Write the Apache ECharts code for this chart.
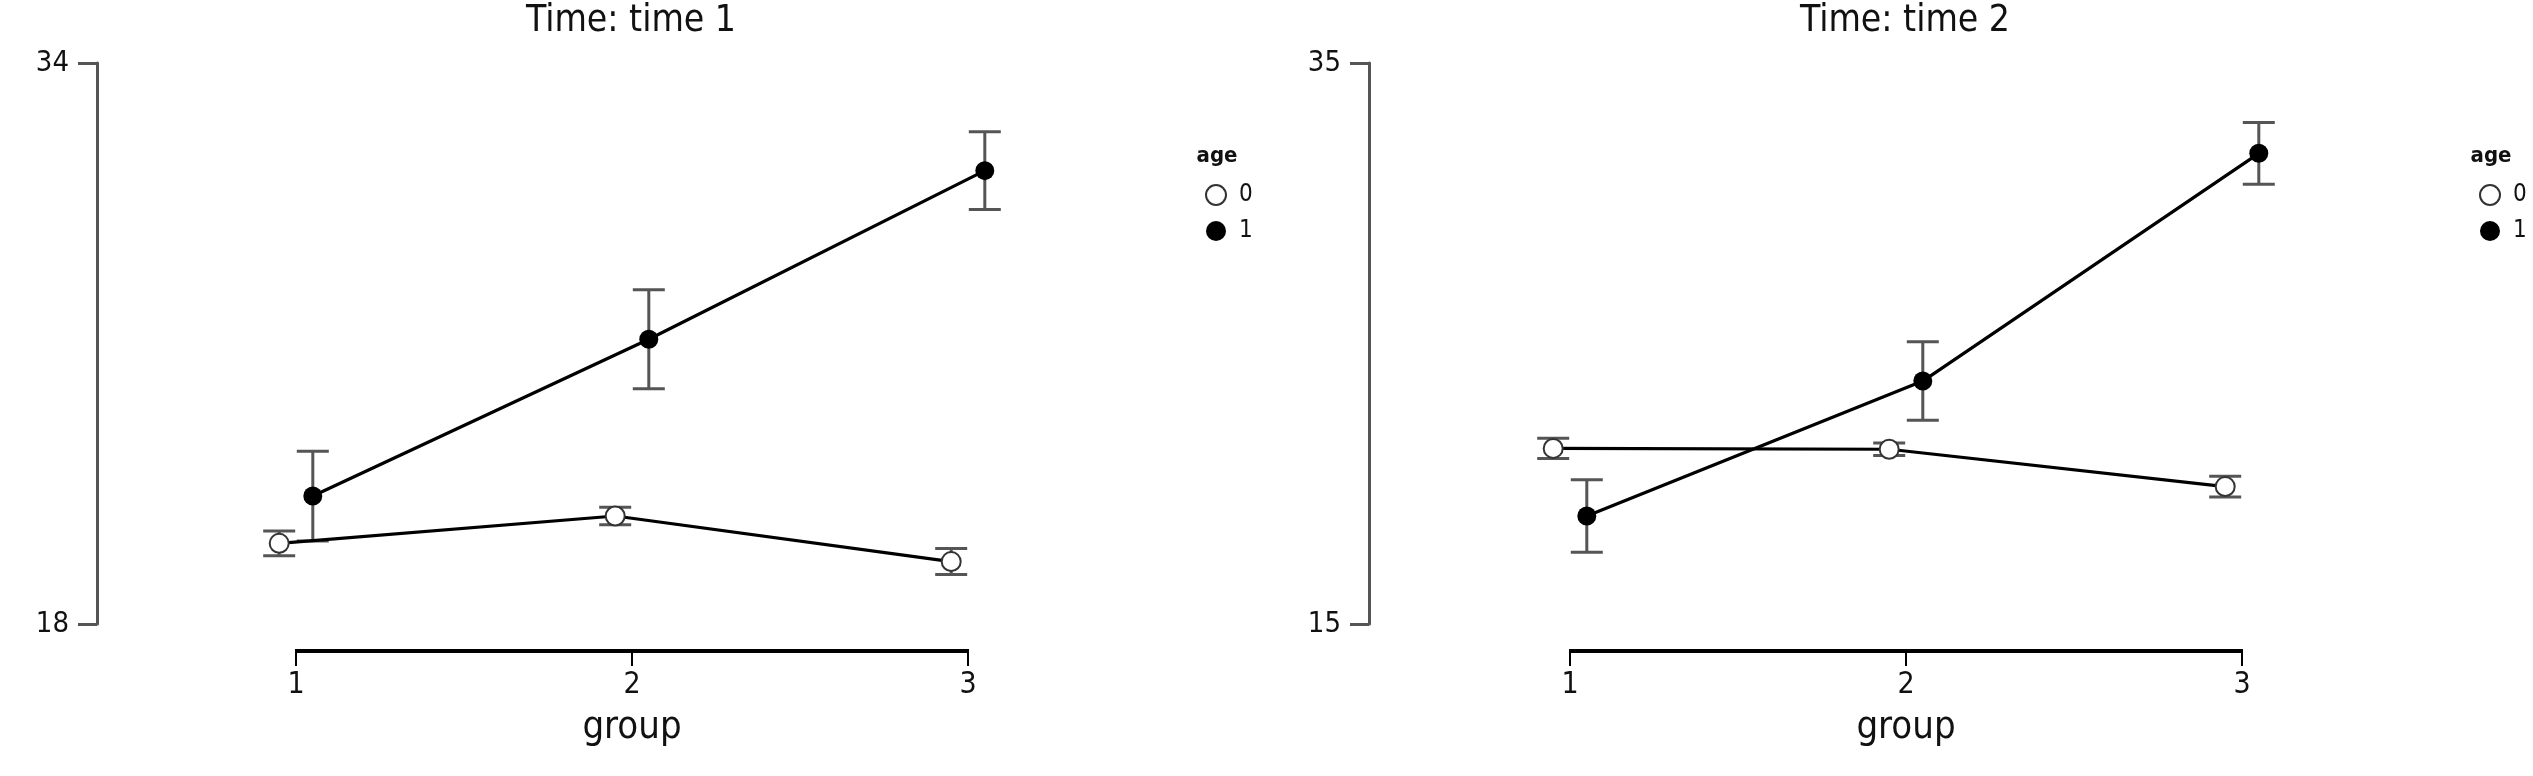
<!DOCTYPE html>
<html>
<head>
<meta charset="utf-8">
<script src="https://cdn.jsdelivr.net/npm/echarts@6/dist/echarts.min.js"></script>
<style>
html,body{margin:0;padding:0;background:#fff;}
#chart{width:2533px;height:776px;}
</style>
</head>
<body>
<div id="chart"></div>
<script>
// ---- data ----
const groups = [1, 2, 3];
const panelTitles = ['Time: time 1', 'Time: time 2'];
const yTicks1 = [18, 34];
const yTicks2 = [15, 35];
const ageLevels = ['0', '1'];

const t1Age0 = [20.30, 21.08, 19.78];
const t1Age0Err = [0.35, 0.25, 0.37];
const t1Age1 = [21.65, 26.12, 30.93];
const t1Age1Err = [1.28, 1.41, 1.11];

const t2Age0 = [21.26, 21.23, 19.90];
const t2Age0Err = [0.36, 0.22, 0.37];
const t2Age1 = [18.85, 23.66, 31.78];
const t2Age1Err = [1.29, 1.40, 1.10];

// ---- layout / style ----
const DODGE = 0.05;
const XPAD = 0.1;
const FONT = '"DejaVu Sans Condensed", "Liberation Sans Narrow", "Arial Narrow", sans-serif';
const UNIT = 336;
const grids = [
  { left: 296 - XPAD * UNIT, top: 63, width: (2 + 2 * XPAD) * UNIT, height: 561, outerBoundsMode: 'none', containLabel: false },
  { left: 1570 - XPAD * UNIT, top: 63, width: (2 + 2 * XPAD) * UNIT, height: 561, outerBoundsMode: 'none', containLabel: false }
];
const yAxisX = [97, 1369];
const X_OFFSET = 27;

function pts(vals, dx) { return groups.map((g, i) => [g + dx, vals[i]]); }
function errs(vals, e, dx) { return groups.map((g, i) => [g + dx, vals[i] - e[i], vals[i] + e[i]]); }

function errSeries(idx, vals, e, dx) {
  return {
    type: 'custom', xAxisIndex: idx, yAxisIndex: idx, z: 1, silent: true,
    data: errs(vals, e, dx),
    encode: { x: 0, y: [1, 2] },
    renderItem: function (params, api) {
      const x = api.value(0);
      const lo = api.coord([x, api.value(1)]);
      const hi = api.coord([x, api.value(2)]);
      const hw = 16;
      const st = { stroke: '#555', lineWidth: 3 };
      return {
        type: 'group', children: [
          { type: 'line', shape: { x1: lo[0], y1: lo[1], x2: hi[0], y2: hi[1] }, style: st },
          { type: 'line', shape: { x1: lo[0] - hw, y1: lo[1], x2: lo[0] + hw, y2: lo[1] }, style: st },
          { type: 'line', shape: { x1: hi[0] - hw, y1: hi[1], x2: hi[0] + hw, y2: hi[1] }, style: st }
        ]
      };
    }
  };
}

// x axis baseline spanning only first..last group (like the reference)
function axisLineSeries(idx, yMin) {
  return {
    type: 'custom', xAxisIndex: idx, yAxisIndex: idx, z: 2, silent: true,
    data: [[groups[0], groups[groups.length - 1], yMin]],
    encode: { x: [0, 1], y: 2 },
    renderItem: function (params, api) {
      const a = api.coord([api.value(0), api.value(2)]);
      const b = api.coord([api.value(1), api.value(2)]);
      return {
        type: 'line',
        shape: { x1: a[0] - 1, y1: a[1] + X_OFFSET, x2: b[0] + 1, y2: b[1] + X_OFFSET },
        style: { stroke: '#000', lineWidth: 4 }
      };
    }
  };
}

function lineSeries(idx, name, vals, dx, filled) {
  return {
    type: 'line', name: name, xAxisIndex: idx, yAxisIndex: idx, z: 3,
    clip: false, data: pts(vals, dx),
    symbol: 'circle', symbolSize: 19,
    itemStyle: { color: filled ? '#000' : '#fff', borderColor: filled ? '#000' : '#333', borderWidth: filled ? 0 : 2 },
    lineStyle: { color: '#000', width: 3.2 },
    emphasis: { disabled: true },
    animation: false
  };
}

function xAxis(idx) {
  return {
    type: 'value', gridIndex: idx, min: groups[0] - XPAD, max: groups[groups.length - 1] + XPAD,
    offset: X_OFFSET,
    axisLine: { show: false },
    axisTick: { show: true, length: 15, customValues: groups, lineStyle: { color: '#000', width: 2 } },
    axisLabel: { fontSize: 30, color: '#111', fontFamily: FONT, margin: 19, customValues: groups },
    splitLine: { show: false },
    name: 'group', nameLocation: 'middle', nameGap: 58,
    nameTextStyle: { fontSize: 38, color: '#111', fontFamily: FONT }
  };
}

function yAxis(idx, ticks) {
  return {
    type: 'value', gridIndex: idx, min: ticks[0], max: ticks[1], interval: ticks[1] - ticks[0],
    offset: grids[idx].left - yAxisX[idx],
    axisLine: { show: true, lineStyle: { color: '#555', width: 3 } },
    axisTick: { show: true, length: 19, lineStyle: { color: '#555', width: 3 } },
    axisLabel: { fontSize: 29, color: '#111', fontFamily: FONT, margin: 28 },
    splitLine: { show: false }
  };
}

function legend(idx, left) {
  return {
    orient: 'vertical', left: left, top: 183,
    itemWidth: 20, itemHeight: 20, itemGap: 12, icon: 'circle',
    data: ageLevels,
    textStyle: { fontSize: 24, color: '#111', fontFamily: FONT, padding: [0, 0, 0, 8] },
    selectedMode: false, padding: 0
  };
}

const option = {
  backgroundColor: '#fff',
  animation: false,
  title: [
    { text: panelTitles[0], left: 631, top: 3, textAlign: 'center', padding: 0,
      textStyle: { fontSize: 37, fontWeight: 'normal', color: '#111', fontFamily: FONT } },
    { text: panelTitles[1], left: 1905, top: 3, textAlign: 'center', padding: 0,
      textStyle: { fontSize: 37, fontWeight: 'normal', color: '#111', fontFamily: FONT } },
    { text: 'age', left: 1217, top: 145, textAlign: 'center', padding: 0,
      textStyle: { fontSize: 22, fontWeight: 'bold', color: '#111', fontFamily: FONT } },
    { text: 'age', left: 2491, top: 145, textAlign: 'center', padding: 0,
      textStyle: { fontSize: 22, fontWeight: 'bold', color: '#111', fontFamily: FONT } }
  ],
  legend: [legend(0, 1205), legend(1, 2479)],
  grid: grids,
  xAxis: [xAxis(0), xAxis(1)],
  yAxis: [yAxis(0, yTicks1), yAxis(1, yTicks2)],
  series: [
    axisLineSeries(0, yTicks1[0]),
    errSeries(0, t1Age0, t1Age0Err, -DODGE),
    errSeries(0, t1Age1, t1Age1Err, DODGE),
    lineSeries(0, ageLevels[0], t1Age0, -DODGE, false),
    lineSeries(0, ageLevels[1], t1Age1, DODGE, true),
    axisLineSeries(1, yTicks2[0]),
    errSeries(1, t2Age0, t2Age0Err, -DODGE),
    errSeries(1, t2Age1, t2Age1Err, DODGE),
    lineSeries(1, ageLevels[0], t2Age0, -DODGE, false),
    lineSeries(1, ageLevels[1], t2Age1, DODGE, true)
  ]
};

const chart = echarts.init(document.getElementById('chart'), null, { renderer: 'canvas' });
chart.setOption(option);
</script>
</body>
</html>
